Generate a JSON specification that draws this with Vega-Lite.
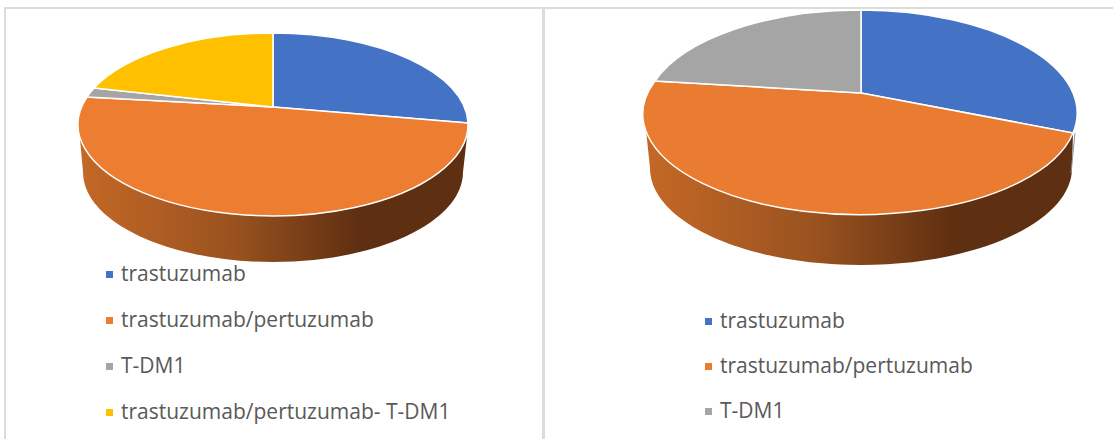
{
  "$schema": "https://vega.github.io/schema/vega-lite/v6.json",
  "padding": {"left": 4, "top": 5, "right": 0, "bottom": 0},
  "background": "white",
  "spacing": -2,
  "config": {
    "view": {"stroke": "#dcdcdc", "strokeWidth": 2},
    "legend": {
      "orient": "none", "title": null, "padding": 0, "symbolType": "square", "symbolSize": 49,
      "symbolStrokeWidth": 0, "labelFont": "Open Sans", "labelFontSize": 21, "labelColor": "#595959",
      "labelOffset": 1, "rowPadding": 24, "labelLimit": 500
    }
  },
  "resolve": {"scale": {"color": "independent", "shape": "independent", "x": "independent", "y": "independent"}, "legend": {"color": "independent"}},
  "hconcat": [
    {
      "width": 538, "height": 434,
      "data": {"values": [
        {"chart": "A", "sector": 1, "drug": "trastuzumab", "share": 25},
        {"chart": "A", "sector": 2, "drug": "trastuzumab/pertuzumab", "share": 49},
        {"chart": "A", "sector": 3, "drug": "T-DM1", "share": 1.5},
        {"chart": "A", "sector": 4, "drug": "trastuzumab/pertuzumab- T-DM1", "share": 19}
      ]},
      "encoding": {
        "x": {"field": "chart", "type": "nominal", "axis": null, "scale": {"range": [268, 268]}},
        "y": {"field": "chart", "type": "nominal", "axis": null, "scale": {"range": [99, 99]}}
      },
      "layer": [
        {
          "transform": [{"filter": "datum.sector === 2"}],
          "mark": {
            "type": "point", "filled": true, "opacity": 1, "size": 4, "strokeWidth": 0,
            "shape": "M-194,21 L-190,65 A190,90 0 0 0 190,65 L195,21 Z",
            "fill": {"gradient": "linear", "x1": 0, "x2": 1, "y1": 0, "y2": 0, "stops": [
              {"offset": 0, "color": "#c46826"}, {"offset": 0.4, "color": "#99521f"}, {"offset": 0.72, "color": "#5f2f11"}, {"offset": 1, "color": "#5f2f11"}
            ]}
          }
        },
        {
          "mark": {"type": "point", "filled": true, "opacity": 1, "size": 4, "stroke": "white", "strokeWidth": 1.5},
          "encoding": {
            "color": {
              "field": "drug", "type": "nominal",
              "scale": {
                "domain": ["trastuzumab", "trastuzumab/pertuzumab", "T-DM1", "trastuzumab/pertuzumab- T-DM1"],
                "range": ["#4472c4", "#ed7d31", "#a5a5a5", "#ffc000"]
              },
              "legend": {"legendX": 94, "legendY": 256}
            },
            "shape": {
              "field": "sector", "type": "nominal", "legend": null,
              "scale": {
                "domain": [1, 2, 3, 4],
                "range": [
                  "M0,0 L0,-74 A195,91.5 0 0 1 195,16 Z",
                  "M0,0 L195,16 A195,91.5 0 1 1 -186,-10 Z",
                  "M0,0 L-186,-10 A195,91.5 0 0 1 -179,-19 Z",
                  "M0,0 L-179,-19 A195,91.5 0 0 1 0,-74 Z"
                ]
              }
            },
            "tooltip": {"field": "share", "type": "quantitative"}
          }
        }
      ]
    },
    {
      "width": 572, "height": 434,
      "data": {"values": [
        {"chart": "B", "sector": 1, "drug": "trastuzumab", "share": 33},
        {"chart": "B", "sector": 2, "drug": "trastuzumab/pertuzumab", "share": 45},
        {"chart": "B", "sector": 3, "drug": "T-DM1", "share": 22}
      ]},
      "encoding": {
        "x": {"field": "chart", "type": "nominal", "axis": null, "scale": {"range": [317, 317]}},
        "y": {"field": "chart", "type": "nominal", "axis": null, "scale": {"range": [85, 85]}}
      },
      "layer": [
        {
          "transform": [{"filter": "datum.sector === 2"}],
          "mark": {
            "type": "point", "filled": true, "opacity": 1, "size": 4, "strokeWidth": 0,
            "shape": "M-215,37 L-211,75 A211,97 0 0 0 211,75 L212,40 Z",
            "fill": {"gradient": "linear", "x1": 0, "x2": 1, "y1": 0, "y2": 0, "stops": [
              {"offset": 0, "color": "#c46826"}, {"offset": 0.4, "color": "#99521f"}, {"offset": 0.72, "color": "#5f2f11"}, {"offset": 1, "color": "#5f2f11"}
            ]}
          }
        },
        {
          "transform": [{"filter": "datum.sector === 1"}],
          "mark": {
            "type": "point", "filled": false, "opacity": 1, "size": 4, "strokeWidth": 1, "stroke": "#8f98a6",
            "shape": "M214,40 L210,80"
          }
        },
        {
          "mark": {"type": "point", "filled": true, "opacity": 1, "size": 4, "stroke": "white", "strokeWidth": 1.5},
          "encoding": {
            "color": {
              "field": "drug", "type": "nominal",
              "scale": {
                "domain": ["trastuzumab", "trastuzumab/pertuzumab", "T-DM1"],
                "range": ["#4472c4", "#e97c30", "#a5a5a5"]
              },
              "legend": {"legendX": 154, "legendY": 303, "rowPadding": 23}
            },
            "shape": {
              "field": "sector", "type": "nominal", "legend": null,
              "scale": {
                "domain": [1, 2, 3],
                "range": [
                  "M0,0 L0,-83 A217,103 0 0 1 212,40 Z",
                  "M0,0 L212,40 A217,100.5 0 1 1 -206,-12 Z",
                  "M0,0 L-206,-12 A217,103 0 0 1 0,-83 Z"
                ]
              }
            },
            "tooltip": {"field": "share", "type": "quantitative"}
          }
        }
      ]
    }
  ]
}
